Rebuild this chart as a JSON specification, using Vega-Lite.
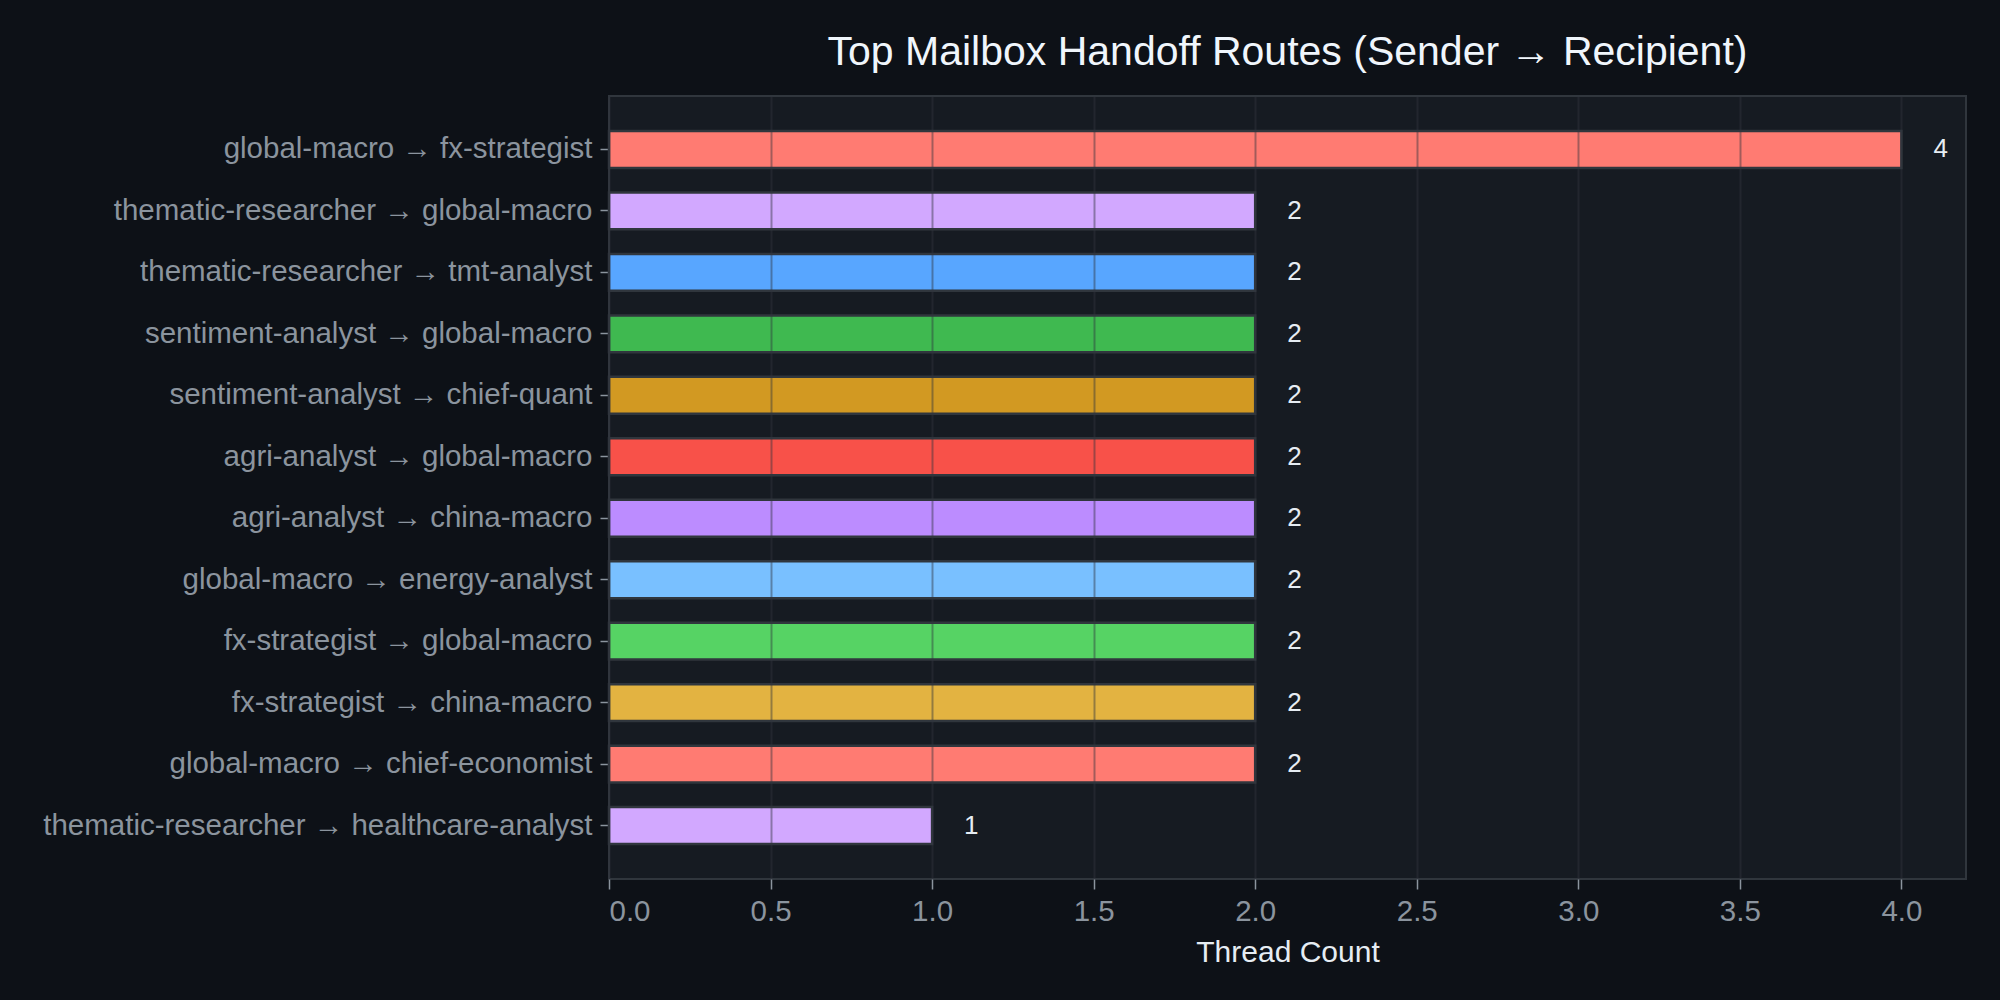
{
  "$schema": "https://vega.github.io/schema/vega-lite/v6.json",
  "autosize": "none",
  "width": 1357,
  "height": 783,
  "padding": {"left": 609, "top": 96, "right": 34, "bottom": 121},
  "background": "#0d1117",
  "title": {
    "text": "Top Mailbox Handoff Routes (Sender → Recipient)",
    "font": "Liberation Sans",
    "fontSize": 41,
    "fontWeight": "normal",
    "color": "#f0f6fc",
    "anchor": "middle",
    "offset": 22
  },
  "config": {
    "view": {"fill": "#161b22", "stroke": "#30363d", "strokeWidth": 2},
    "font": "Liberation Sans"
  },
  "data": {
    "values": [
      {"route": "global-macro → fx-strategist", "count": 4},
      {"route": "thematic-researcher → global-macro", "count": 2},
      {"route": "thematic-researcher → tmt-analyst", "count": 2},
      {"route": "sentiment-analyst → global-macro", "count": 2},
      {"route": "sentiment-analyst → chief-quant", "count": 2},
      {"route": "agri-analyst → global-macro", "count": 2},
      {"route": "agri-analyst → china-macro", "count": 2},
      {"route": "global-macro → energy-analyst", "count": 2},
      {"route": "fx-strategist → global-macro", "count": 2},
      {"route": "fx-strategist → china-macro", "count": 2},
      {"route": "global-macro → chief-economist", "count": 2},
      {"route": "thematic-researcher → healthcare-analyst", "count": 1}
    ]
  },
  "encoding": {
    "y": {
      "field": "route",
      "type": "nominal",
      "sort": null,
      "scale": {"paddingInner": 0.4, "paddingOuter": 0.57},
      "axis": {
        "title": null,
        "labelFontSize": 29.5,
        "labelColor": "#8b949e",
        "labelPadding": 8,
        "tickColor": "#8b949e",
        "tickSize": 9,
        "tickWidth": 1.5,
        "domain": false,
        "grid": false,
        "labelLimit": 800
      }
    },
    "x": {
      "field": "count",
      "type": "quantitative",
      "scale": {"domain": [0, 4.2], "nice": false},
      "axis": {
        "title": "Thread Count",
        "titleFontSize": 30,
        "titleFontWeight": "normal",
        "titleColor": "#e6edf3",
        "titlePadding": 12,
        "values": [0, 0.5, 1, 1.5, 2, 2.5, 3, 3.5, 4],
        "format": ".1f",
        "labelFontSize": 29.5,
        "labelColor": "#8b949e",
        "labelPadding": 8,
        "tickColor": "#8b949e",
        "tickSize": 10,
        "tickWidth": 1.5,
        "domain": false,
        "grid": true,
        "gridColor": "#30363d",
        "gridOpacity": 0.45,
        "gridWidth": 2,
        "zindex": 1
      }
    }
  },
  "layer": [
    {
      "mark": {"type": "bar", "stroke": "#30363d", "strokeWidth": 2.5},
      "encoding": {
        "color": {
          "field": "route",
          "type": "nominal",
          "legend": null,
          "scale": {
            "domain": [
              "global-macro → fx-strategist",
              "thematic-researcher → global-macro",
              "thematic-researcher → tmt-analyst",
              "sentiment-analyst → global-macro",
              "sentiment-analyst → chief-quant",
              "agri-analyst → global-macro",
              "agri-analyst → china-macro",
              "global-macro → energy-analyst",
              "fx-strategist → global-macro",
              "fx-strategist → china-macro",
              "global-macro → chief-economist",
              "thematic-researcher → healthcare-analyst"
            ],
            "range": ["#ff7b72", "#d2a8ff", "#58a6ff", "#3fb950", "#d29922", "#f85149", "#bc8cff", "#79c0ff", "#56d364", "#e3b341", "#ff7b72", "#d2a8ff"]
          }
        }
      }
    },
    {
      "mark": {"type": "text", "align": "left", "baseline": "middle", "dx": 32, "fontSize": 26, "color": "#e6edf3"},
      "encoding": {"text": {"field": "count", "type": "quantitative"}}
    }
  ]
}
